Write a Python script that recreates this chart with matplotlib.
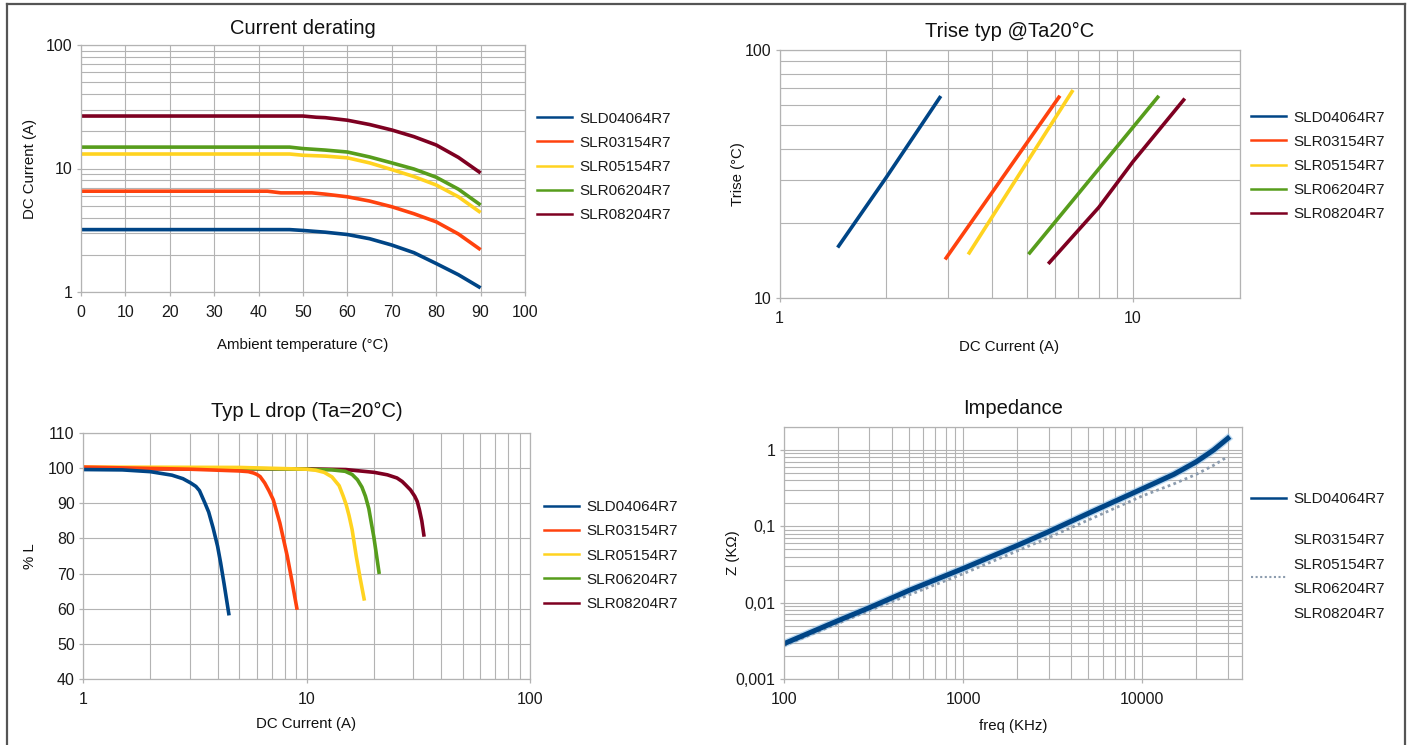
import matplotlib
matplotlib.use('Agg')
import matplotlib.pyplot as plt
from matplotlib.lines import Line2D
from matplotlib.ticker import LogLocator, FixedLocator, NullFormatter, FixedFormatter, MultipleLocator, NullLocator

plt.rcParams['font.family'] = ['Liberation Sans', 'DejaVu Sans']

names = ['SLD04064R7', 'SLR03154R7', 'SLR05154R7', 'SLR06204R7', 'SLR08204R7']
colors = ['#004586', '#ff420e', '#ffd320', '#579d1c', '#7e0021']

# ---- Current derating (Ambient temperature degC -> DC current A)
der_t_sld04064 = [0, 47, 50, 55, 60, 65, 70, 75, 80, 85, 90]
der_i_sld04064 = [3.2, 3.2, 3.15, 3.05, 2.92, 2.7, 2.4, 2.08, 1.70, 1.38, 1.08]
der_t_slr03154 = [0, 42, 45, 52, 55, 60, 65, 70, 75, 80, 85, 90]
der_i_slr03154 = [6.55, 6.55, 6.35, 6.35, 6.2, 5.9, 5.45, 4.9, 4.3, 3.7, 2.95, 2.2]
der_t_slr05154 = [0, 47, 50, 55, 60, 65, 70, 75, 80, 85, 90]
der_i_slr05154 = [13.1, 13.1, 12.8, 12.6, 12.2, 11.1, 9.8, 8.6, 7.35, 5.9, 4.4]
der_t_slr06204 = [0, 47, 50, 55, 60, 65, 70, 75, 80, 85, 90]
der_i_slr06204 = [14.9, 14.9, 14.5, 14.1, 13.6, 12.4, 11.1, 9.9, 8.5, 6.8, 5.06]
der_t_slr08204 = [0, 50, 53, 55, 60, 65, 70, 75, 80, 85, 90]
der_i_slr08204 = [26.6, 26.6, 26.0, 25.8, 24.6, 22.7, 20.5, 18.1, 15.5, 12.3, 9.2]

# ---- Trise typ @Ta20degC (DC current A -> Trise degC)
tr_i_sld04064 = [1.47, 2.0, 2.84]
tr_t_sld04064 = [16.2, 30.5, 64.3]
tr_i_slr03154 = [2.96, 6.17]
tr_t_slr03154 = [14.5, 64.5]
tr_i_slr05154 = [3.44, 6.72]
tr_t_slr05154 = [15.2, 68.0]
tr_i_slr06204 = [5.1, 11.74]
tr_t_slr06204 = [15.2, 64.5]
tr_i_slr08204 = [5.8, 8.0, 10.0, 13.9]
tr_t_slr08204 = [13.9, 23.2, 35.5, 62.9]

# ---- Typ L drop (DC current A -> % L)
ld_i_sld04064 = [1, 1.5, 2, 2.5, 2.8, 3.03, 3.2, 3.32, 3.51, 3.65, 3.82, 4.0, 4.13, 4.28, 4.49]
ld_l_sld04064 = [99.6, 99.5, 99.0, 98.0, 97.0, 95.8, 94.8, 93.6, 90.1, 87.5, 83.0, 77.8, 73.0, 67.0, 58.6]
ld_i_slr03154 = [1, 3, 5, 5.5, 5.8, 6.0, 6.2, 6.5, 6.8, 7.1, 7.6, 8.2, 8.6, 9.05]
ld_l_slr03154 = [100.3, 99.7, 99.2, 99.0, 98.6, 98.2, 97.6, 95.8, 93.5, 91.0, 84.4, 75.0, 68.0, 60.2]
ld_i_slr05154 = [1, 5, 10, 11, 12, 13, 14, 14.6, 15.05, 15.5, 16, 16.7, 17.4, 18.1]
ld_l_slr05154 = [100.3, 100.2, 99.7, 99.4, 98.8, 97.5, 95.0, 92.0, 89.6, 86.5, 82.5, 74.9, 68.5, 62.8]
ld_i_slr06204 = [1, 5, 10, 13, 14.9, 16, 16.9, 17.7, 18.35, 19.0, 19.5, 20.0, 20.4, 21.1]
ld_l_slr06204 = [100.0, 99.9, 99.7, 99.5, 99.1, 98.2, 96.7, 94.6, 92.0, 88.5, 84.4, 80.5, 76.8, 70.4]
ld_i_slr08204 = [1, 10, 15, 20.1, 23.0, 25.4, 26.8, 27.8, 29.2, 30.5, 31.3, 32, 32.8, 33.5]
ld_l_slr08204 = [99.8, 99.8, 99.6, 98.8, 98.1, 97.2, 96.2, 95.2, 93.8, 92.0, 90.5, 88.2, 85.0, 81.0]

# ---- Impedance (freq KHz -> Z KOhm)
imp_f_sld04064 = [100, 200, 300, 500, 1000, 2000, 3000, 5000, 10000, 15000, 20000, 25000, 30000]
imp_z_sld04064 = [0.0029, 0.0058, 0.0086, 0.0145, 0.028, 0.056, 0.085, 0.148, 0.31, 0.48, 0.70, 1.0, 1.42]
imp_f_others = [100, 300, 1000, 3000, 10000, 15000, 20000, 25000, 30000]
imp_z_others = [0.00274, 0.0079, 0.0239, 0.071, 0.25, 0.36, 0.48, 0.63, 0.82]

W, H = 1412, 745
fig = plt.figure(figsize=(W / 100, H / 100), dpi=100)


def axpos(l, t, r, b):
    return fig.add_axes([l / W, 1 - b / H, (r - l) / W, (b - t) / H])


GRID = '#b3b3b3'
TXT = '#1a1a1a'


def style(ax):
    for s in ax.spines.values():
        s.set_color(GRID)
        s.set_linewidth(0.9)
    ax.tick_params(which='both', direction='out', color=GRID, labelsize=11.5, labelcolor=TXT)
    ax.tick_params(which='major', length=3, width=0.9)
    ax.tick_params(axis='x', which='major', pad=6.5)
    ax.tick_params(axis='y', which='major', pad=3.0)
    ax.tick_params(which='minor', length=0)
    ax.grid(True, which='both', color=GRID, lw=0.8)
    ax.set_axisbelow(True)


def labels(ax, title, pad, xl, yl, x_label_y, y_label_x, box):
    l, t, r, b = box
    ax.set_title(title, fontsize=14.5, pad=pad, color='#111111')
    ax.set_xlabel(xl, fontsize=10.8, color='#111111')
    ax.set_ylabel(yl, fontsize=10.8, color='#111111')
    ax.xaxis.label.set_va('center')
    ax.yaxis.label.set_va('center')
    ax.xaxis.set_label_coords(0.5, (b - x_label_y) / (b - t))
    ax.yaxis.set_label_coords((y_label_x - l) / (r - l), 0.5)


def legend(ax, handles, labs, x, y, spacing=0.67):
    lg = ax.legend(handles, labs, loc='center left', bbox_to_anchor=(x / W, 1 - y / H),
                   bbox_transform=fig.transFigure, frameon=False, fontsize=11,
                   handlelength=2.3, handletextpad=0.5, labelspacing=spacing,
                   borderpad=0, borderaxespad=0)
    for tx in lg.get_texts():
        tx.set_color(TXT)
    return lg


# ================= Current derating
box1 = (81, 45, 525, 292)
ax1 = axpos(*box1)
style(ax1)
der_t = [der_t_sld04064, der_t_slr03154, der_t_slr05154, der_t_slr06204, der_t_slr08204]
der_i = [der_i_sld04064, der_i_slr03154, der_i_slr05154, der_i_slr06204, der_i_slr08204]
for t, i, c, n in zip(der_t, der_i, colors, names):
    ax1.plot(t, i, color=c, lw=2.6, label=n, solid_capstyle='butt')
ax1.set_yscale('log')
ax1.set_xlim(0, 100)
ax1.set_ylim(1, 100)
ax1.xaxis.set_major_locator(MultipleLocator(10))
ax1.xaxis.set_minor_locator(NullLocator())
ax1.yaxis.set_major_locator(FixedLocator([1, 10, 100]))
ax1.yaxis.set_major_formatter(FixedFormatter(['1', '10', '100']))
ax1.yaxis.set_minor_locator(LogLocator(base=10, subs=range(2, 10)))
ax1.yaxis.set_minor_formatter(NullFormatter())
labels(ax1, 'Current derating', 8, 'Ambient temperature (°C)', 'DC Current (A)', 345, 30, box1)
h1 = [Line2D([], [], color=c, lw=1.8) for c in colors]
legend(ax1, h1, names, 537, 167)

# ================= Trise
box2 = (779.5, 50, 1239.5, 298)
ax2 = axpos(*box2)
style(ax2)
tr_i = [tr_i_sld04064, tr_i_slr03154, tr_i_slr05154, tr_i_slr06204, tr_i_slr08204]
tr_t = [tr_t_sld04064, tr_t_slr03154, tr_t_slr05154, tr_t_slr06204, tr_t_slr08204]
for i, t, c, n in zip(tr_i, tr_t, colors, names):
    ax2.plot(i, t, color=c, lw=2.6, label=n)
ax2.set_xscale('log')
ax2.set_yscale('log')
ax2.set_xlim(1, 20)
ax2.set_ylim(10, 100)
ax2.xaxis.set_major_locator(FixedLocator([1, 10]))
ax2.xaxis.set_major_formatter(FixedFormatter(['1', '10']))
ax2.yaxis.set_major_locator(FixedLocator([10, 100]))
ax2.yaxis.set_major_formatter(FixedFormatter(['10', '100']))
for axis in (ax2.xaxis, ax2.yaxis):
    axis.set_minor_locator(LogLocator(base=10, subs=range(2, 10)))
    axis.set_minor_formatter(NullFormatter())
labels(ax2, 'Trise typ @Ta20°C', 9.4, 'DC Current (A)', 'Trise (°C)', 347, 738, box2)
legend(ax2, [Line2D([], [], color=c, lw=1.8) for c in colors], names, 1251, 166)

# ================= L drop
box3 = (83, 433, 530, 679)
ax3 = axpos(*box3)
style(ax3)
ld_i = [ld_i_sld04064, ld_i_slr03154, ld_i_slr05154, ld_i_slr06204, ld_i_slr08204]
ld_l = [ld_l_sld04064, ld_l_slr03154, ld_l_slr05154, ld_l_slr06204, ld_l_slr08204]
for k in [4, 3, 2, 1, 0]:
    ax3.plot(ld_i[k], ld_l[k], color=colors[k], lw=2.6, label=names[k])
ax3.set_xscale('log')
ax3.set_xlim(1, 100)
ax3.set_ylim(40, 110)
ax3.yaxis.set_major_locator(MultipleLocator(10))
ax3.xaxis.set_major_locator(FixedLocator([1, 10, 100]))
ax3.xaxis.set_major_formatter(FixedFormatter(['1', '10', '100']))
ax3.xaxis.set_minor_locator(LogLocator(base=10, subs=range(2, 10)))
ax3.xaxis.set_minor_formatter(NullFormatter())
labels(ax3, 'Typ L drop (Ta=20°C)', 11.5, 'DC Current (A)', '% L', 724, 30, box3)
legend(ax3, [Line2D([], [], color=c, lw=1.8) for c in colors], names, 544, 555.5)

# ================= Impedance
box4 = (784, 427, 1242, 679)
ax4 = axpos(*box4)
style(ax4)
ax4.plot(imp_f_sld04064, imp_z_sld04064, color='#8fc0e8', lw=5.5, alpha=0.6)
ax4.plot(imp_f_others, imp_z_others, color='#8c9cae', lw=2.0, ls=(0, (1, 1.2)))
ax4.plot(imp_f_sld04064, imp_z_sld04064, color='#004586', lw=3.6)
ax4.set_xscale('log')
ax4.set_yscale('log')
ax4.set_xlim(100, 36000)
ax4.set_ylim(0.001, 2)
ax4.xaxis.set_major_locator(FixedLocator([100, 1000, 10000]))
ax4.xaxis.set_major_formatter(FixedFormatter(['100', '1000', '10000']))
ax4.yaxis.set_major_locator(FixedLocator([0.001, 0.01, 0.1, 1]))
ax4.yaxis.set_major_formatter(FixedFormatter(['0,001', '0,01', '0,1', '1']))
for axis in (ax4.xaxis, ax4.yaxis):
    axis.set_minor_locator(LogLocator(base=10, subs=range(2, 10)))
    axis.set_minor_formatter(NullFormatter())
labels(ax4, 'Impedance', 9.4, 'freq (KHz)', 'Z (KΩ)', 726, 733, box4)
h4 = [Line2D([], [], color='#004586', lw=1.8),
      Line2D([], [], color='#8c9cae', lw=1.5, ls=(0, (1, 1.2)))]
lg4 = ax4.legend(h4, [names[0], '\n'.join(names[1:])], loc='upper left',
                 bbox_to_anchor=(1251 / W, 1 - 492 / H), bbox_transform=fig.transFigure,
                 frameon=False, fontsize=11, handlelength=2.3, handletextpad=0.5,
                 labelspacing=1.8, borderpad=0, borderaxespad=0)
for tx in lg4.get_texts():
    tx.set_color(TXT)
lg4.get_texts()[1].set_linespacing(1.95)

# image frame
fc = '#555555'
fig.add_artist(Line2D([6.5 / W, 6.5 / W], [0, 1 - 4 / H], transform=fig.transFigure, color=fc, lw=1.6))
fig.add_artist(Line2D([6.5 / W, 1404.5 / W], [1 - 4 / H, 1 - 4 / H], transform=fig.transFigure, color=fc, lw=1.6))
fig.add_artist(Line2D([1404.5 / W, 1404.5 / W], [0, 1 - 4 / H], transform=fig.transFigure, color=fc, lw=1.6))

fig.savefig('out.png', dpi=100)
